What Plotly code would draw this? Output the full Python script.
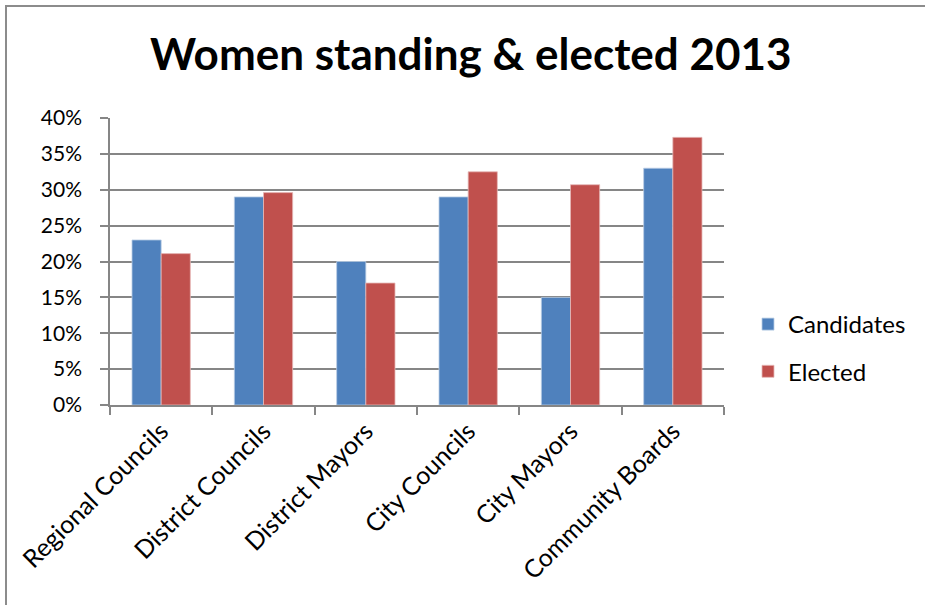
import plotly.graph_objects as go

categories = ["Regional Councils", "District Councils", "District Mayors",
              "City Councils", "City Mayors", "Community Boards"]
candidates = [0.23, 0.29, 0.20, 0.29, 0.15, 0.33]
elected = [0.211, 0.296, 0.17, 0.325, 0.307, 0.373]
y_ticks = [0, 0.05, 0.10, 0.15, 0.20, 0.25, 0.30, 0.35, 0.40]

FONT = "Lato"
W, H = 925, 605
L, R, T, B = 110, 201, 118, 200
pw, ph = W - L - R, H - T - B

fig = go.Figure()
fig.add_trace(go.Bar(x=categories, y=candidates, name="Candidates",
                     marker=dict(color="#4F81BD", line=dict(color="#B9CDE5", width=0.8)),
                     legendgroup="a"))
fig.add_trace(go.Bar(x=categories, y=elected, name="Elected",
                     marker=dict(color="#C0504D", line=dict(color="#E6B9B8", width=0.8)),
                     legendgroup="b"))


# pixel -> paper coordinate helpers
def px_x(px):
    return (px - L) / pw


def px_y(py):
    return (H - B - py) / ph


# outer chart border
fig.add_shape(type="rect", xref="paper", yref="paper",
              x0=px_x(6), x1=px_x(940), y0=px_y(620), y1=px_y(6),
              line=dict(color="#8C8C8C", width=2), fillcolor="rgba(0,0,0,0)", layer="above")

fig.update_layout(
    width=W, height=H,
    margin=dict(l=L, r=R, t=T, b=B, autoexpand=False),
    paper_bgcolor="white", plot_bgcolor="white",
    font=dict(family=FONT, size=20, color="black"),
    title=dict(text="<b>Women standing & elected 2013</b>", x=0.509, xanchor="center",
               y=1 - 55 / H, yanchor="middle", font=dict(family=FONT, size=44, color="black")),
    barmode="group", bargap=0.43, bargroupgap=0,
    legend=dict(x=px_x(748), xanchor="left", y=px_y(348), yanchor="middle",
                font=dict(family=FONT, size=24), tracegroupgap=13,
                traceorder="grouped", itemwidth=30, bgcolor="rgba(0,0,0,0)"),
    xaxis=dict(type="category", tickangle=-45, tickson="boundaries", ticks="outside",
               ticklen=8, tickcolor="#868686", tickwidth=1.5, automargin=False,
               showline=True, linecolor="#868686", linewidth=1.5,
               tickfont=dict(family=FONT, size=25), showgrid=False),
    yaxis=dict(range=[0, 0.4], tickvals=y_ticks, tickformat=".0%", ticks="outside",
               ticklen=8, tickcolor="#868686", tickwidth=1.5, automargin=False,
               showline=True, linecolor="#868686", linewidth=1.5,
               showgrid=True, gridcolor="#868686", gridwidth=1.5,
               ticklabelstandoff=14, zeroline=False,
               tickfont=dict(family=FONT, size=21)),
)

fig.write_html("out.html")
